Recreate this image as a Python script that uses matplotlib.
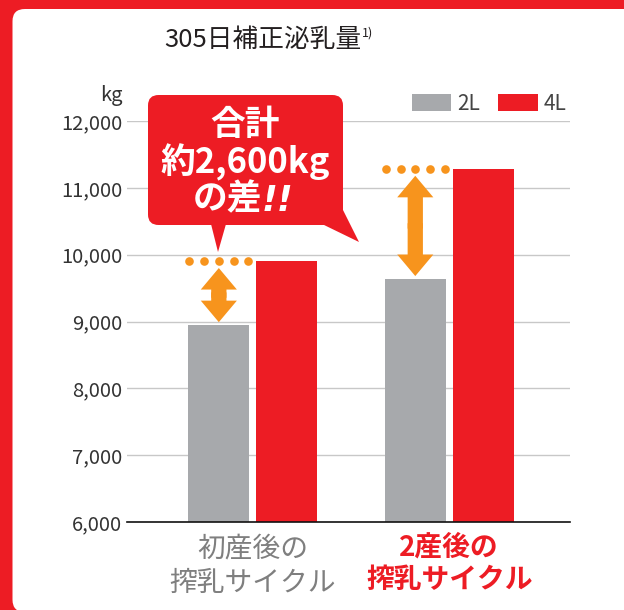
import numpy as np
import matplotlib.pyplot as plt
from matplotlib.patches import FancyBboxPatch, Polygon, FancyArrowPatch

plt.rcParams['font.family'] = ['Noto Sans CJK JP', 'DejaVu Sans']

# データ
categories = ['初産後の\n搾乳サイクル', '2産後の\n搾乳サイクル']
series_names = ['2L', '4L']
milk_2l = [8950, 9640]
milk_4l = [9900, 11280]
yticks = [6000, 7000, 8000, 9000, 10000, 11000, 12000]
ytick_labels = ['6,000', '7,000', '8,000', '9,000', '10,000', '11,000', '12,000']
title = '305日補正泌乳量'
note = '1)'
unit = 'kg'
callout = ['合計', '約2,600kg', 'の差', '!!']

RED = '#ED1C24'
GRAY = '#A7A9AC'
ORANGE = '#F7941D'
W, H = 624, 610

fig = plt.figure(figsize=(W / 100, H / 100), dpi=100)
fig.patch.set_facecolor(RED)


def fp(x, y):
    # ピクセル -> figure座標
    return (x / W, 1 - y / H)


# 白いパネル
panel = FancyBboxPatch(fp(12.5, 612), (700 - 12.5) / W, (612 - 9) / H,
                       boxstyle='round,pad=0,rounding_size=0.02',
                       transform=fig.transFigure, fc='white', ec='none', zorder=0)
fig.add_artist(panel)

ax = fig.add_axes([127 / W, 1 - 522 / H, (570 - 127) / W, (522 - 121) / H])
ax.patch.set_alpha(0)

x = np.arange(len(categories))
off = 0.1726
width = 0.31
ax.bar(x - off, milk_2l, width, color=GRAY, label=series_names[0], zorder=3)
ax.bar(x + off, milk_4l, width, color=RED, label=series_names[1], zorder=3)

ax.set_ylim(6000, 12000)
ax.set_xlim(-0.64, 1.615)
ax.set_yticks(yticks)
ax.set_yticklabels(ytick_labels, fontsize=14.5, color='#333333')
ax.yaxis.grid(True, color='#c8c8c8', lw=1.0)
ax.set_axisbelow(True)
ax.tick_params(axis='y', length=0, pad=3.5)
ax.tick_params(axis='x', length=0, pad=8.5)
for s in ['left', 'right', 'top']:
    ax.spines[s].set_visible(False)
ax.spines['bottom'].set_color('#111111')
ax.spines['bottom'].set_linewidth(1.2)
ax.spines['bottom'].set_zorder(5)

ax.set_xticks(x)
ax.set_xticklabels(categories, fontsize=20, linespacing=1.2)
labs = ax.get_xticklabels()
labs[0].set_color('#7f7f7f')
labs[1].set_color(RED)
labs[1].set_fontweight('bold')

# 点線と矢印
for i in range(len(x)):
    xs = x[i] - off + np.linspace(-0.15, 0.15, 5)
    ax.plot(xs, [milk_4l[i]] * 5, 'o', ms=6.2, color=ORANGE, mec='none',
            clip_on=False, zorder=4)
    top = milk_4l[i] - 100
    bot = milk_2l[i] + 40
    mid = (top + bot) / 2
    for a, b in [((x[i] - off, mid - 40), (x[i] - off, top)),
                 ((x[i] - off, mid + 40), (x[i] - off, bot))]:
        ar = FancyArrowPatch(a, b, arrowstyle='simple,head_length=15.5,head_width=26,tail_width=11',
                             mutation_scale=1, shrinkA=0, shrinkB=0,
                             color=ORANGE, lw=0, zorder=4)
        ax.add_patch(ar)

# 凡例
leg = ax.legend(loc='center right', bbox_to_anchor=fp(566, 104),
                bbox_transform=fig.transFigure, ncol=2, frameon=False,
                fontsize=15, handlelength=1.9, handleheight=0.9,
                handletextpad=0.25, columnspacing=0.9, borderpad=0,
                borderaxespad=0)
for t in leg.get_texts():
    t.set_color('#444444')

# タイトル
fig.text(*fp(263, 40), title, ha='center', va='center', fontsize=18.5, color='#231F20')
fig.text(*fp(362, 33), note, ha='left', va='center', fontsize=9, color='#231F20')
fig.text(*fp(123, 96), unit, ha='right', va='center', fontsize=14.5, color='#333333')

# 吹き出し
bubble = FancyBboxPatch(fp(148, 225), (343 - 148) / W, (225 - 95) / H,
                        boxstyle='round,pad=0,rounding_size=0.017',
                        transform=fig.transFigure, fc=RED, ec='none', zorder=6)
fig.add_artist(bubble)
for pts in [[(211, 224), (226, 224), (218, 252)],
            [(322, 224), (343, 210), (359, 242)]]:
    fig.add_artist(Polygon([fp(*p) for p in pts], closed=True,
                           transform=fig.transFigure, fc=RED, ec='none', zorder=6))
fig.text(*fp(245.5, 124), callout[0], ha='center', va='center', fontsize=25,
         fontweight='bold', color='white', zorder=7)
fig.text(*fp(245.5, 162), callout[1], ha='center', va='center', fontsize=25,
         fontweight='bold', color='white', zorder=7)
fig.text(*fp(262, 199), callout[2], ha='right', va='center', fontsize=25,
         fontweight='bold', color='white', zorder=7)
fig.text(*fp(262, 201), callout[3], ha='left', va='center', fontsize=25,
         fontweight='bold', style='italic', family='DejaVu Sans', color='white', zorder=7)

fig.savefig('out.png', dpi=100, facecolor=fig.get_facecolor())
